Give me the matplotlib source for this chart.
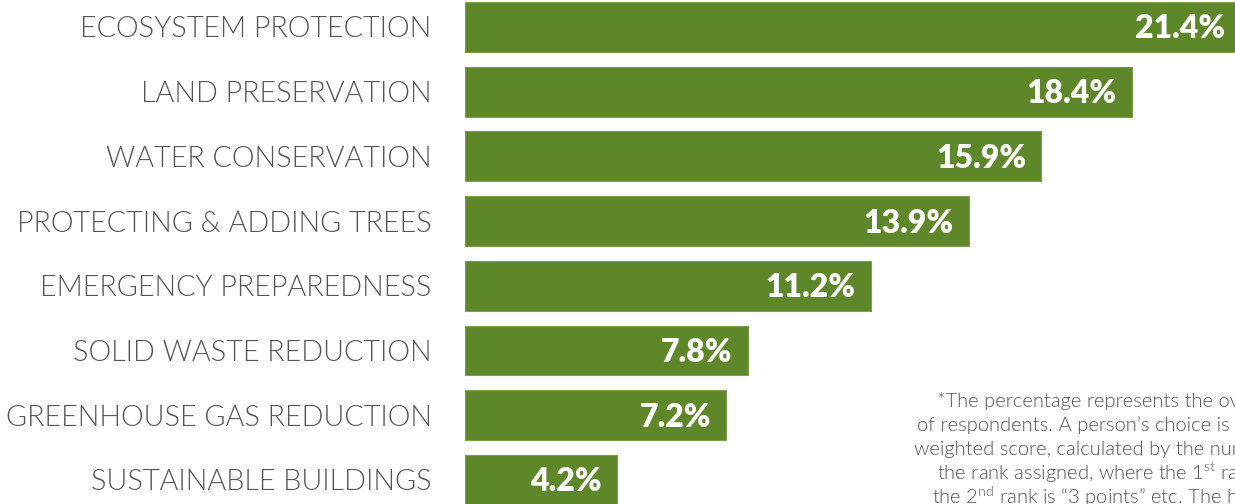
import matplotlib
matplotlib.use("Agg")
import matplotlib.pyplot as plt

# data
categories = [
    "ECOSYSTEM PROTECTION",
    "LAND PRESERVATION",
    "WATER CONSERVATION",
    "PROTECTING & ADDING TREES",
    "EMERGENCY PREPAREDNESS",
    "SOLID WASTE REDUCTION",
    "GREENHOUSE GAS REDUCTION",
    "SUSTAINABLE BUILDINGS",
]
values = [21.4, 18.4, 15.9, 13.9, 11.2, 7.8, 7.2, 4.2]
value_labels = ["21.4%", "18.4%", "15.9%", "13.9%", "11.2%", "7.8%", "7.2%", "4.2%"]

footnote_lines = [
    "*The percentage represents the overall",
    "of respondents. A person\u2019s choice is given a",
    "weighted score, calculated by the number of",
    "the rank assigned, where the 1$^{\\mathrm{st}}$ rank is",
    "the 2$^{\\mathrm{nd}}$ rank is \u201c3 points\u201d etc. The higher",
]

bar_color = "#5e8729"
text_grey = "#555555"

plt.rcParams["font.family"] = "Lato"
plt.rcParams["mathtext.fontset"] = "custom"
plt.rcParams["mathtext.rm"] = "Lato:weight=300"

fig = plt.figure(figsize=(12.35, 5.04), dpi=100)
ax = fig.add_axes([465 / 1235, 0, 770 / 1235, 1])

pos = list(range(len(categories)))
ax.barh(pos, values, height=0.77, color=bar_color, edgecolor="#7a9e4c", linewidth=0.8)

ax.set_xlim(0, 770 / 36.25)
ax.set_ylim(7.372, -0.417)

ax.set_yticks(pos)
ax.set_yticklabels(categories, fontsize=20.7, color=text_grey, fontweight=300)
ax.tick_params(axis="y", length=0, pad=24)
ax.set_xticks([])
for s in ax.spines.values():
    s.set_visible(False)

for p, v, lab in zip(pos, values, value_labels):
    ax.text(v - 0.42, p + 0.03, lab, ha="right", va="center", color="white",
            fontsize=23, fontweight="heavy", clip_on=False)

# footnote, one line at a time so the superscripts don't shift the spacing
for i, line in enumerate(footnote_lines):
    fig.text(1107 / 1235, 1 - (401 + 24 * i) / 504, line, ha="center", va="center",
             fontsize=14.5, color=text_grey, fontweight=300)

fig.savefig("out.png", dpi=100)
